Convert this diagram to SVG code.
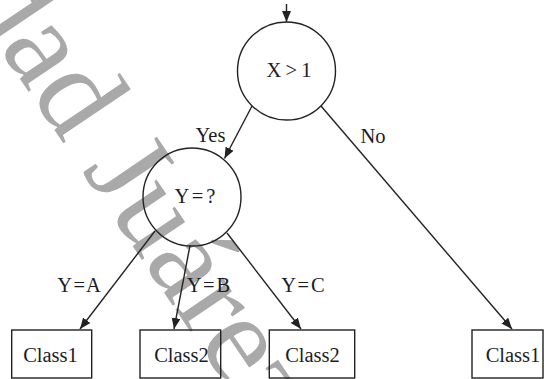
<svg xmlns="http://www.w3.org/2000/svg" width="544" height="379" viewBox="0 0 544 379">
  <style>
    .wm { font-family: "Liberation Serif", "Times New Roman", serif; font-size: 124px; fill: #a9a9a9; }
    .node circle, .node rect { fill: none; stroke: #222; stroke-width: 1.4; }
    .t { font-family: "Liberation Serif", "Times New Roman", serif; font-size: 20.5px; fill: #1c1c28; text-anchor: middle; }
    .eq { word-spacing: -3px; }
    .edge { stroke: #222; stroke-width: 1.4; fill: none; marker-end: url(#ah); }
  </style>
  <defs>
    <marker id="ah" markerUnits="userSpaceOnUse" markerWidth="12" markerHeight="10" refX="11" refY="4.5" orient="auto">
      <path d="M0,0 L11,4.5 L0,9 z" fill="#222"/>
    </marker>
  </defs>
  <rect width="544" height="379" fill="#fff"/>
  <text class="wm" transform="translate(-36,-4) rotate(56)">dad Juárez</text>

  <g id="connectors">
    <line class="edge" x1="286.5" y1="4" x2="286.5" y2="22"/>
    <line class="edge" x1="252" y1="106" x2="224.5" y2="158.5"/>
    <line class="edge" x1="321" y1="106" x2="512" y2="329"/>
    <line class="edge" x1="155" y1="231" x2="80" y2="329"/>
    <line class="edge" x1="190" y1="245.5" x2="174" y2="329"/>
    <line class="edge" x1="227" y1="233" x2="301" y2="329"/>
    <text class="t" x="210.5" y="142">Yes</text>
    <text class="t" x="373" y="143">No</text>
    <text class="t eq" x="79" y="292">Y = A</text>
    <text class="t eq" x="208.5" y="292">Y = B</text>
    <text class="t eq" x="303" y="292">Y = C</text>
  </g>

  <g id="n_x" class="node">
    <circle cx="286.5" cy="71" r="49"/>
    <text class="t" x="289" y="77" style="word-spacing:-1px">X &gt; 1</text>
  </g>
  <g id="n_y" class="node">
    <circle cx="192" cy="197" r="49"/>
    <text class="t" x="195" y="203" style="word-spacing:-2px">Y = ?</text>
  </g>
  <g id="c1a" class="node">
    <rect x="11.7" y="330" width="80" height="48"/>
    <text class="t" x="50.5" y="362">Class1</text>
  </g>
  <g id="c2a" class="node">
    <rect x="140" y="330" width="80.7" height="48"/>
    <text class="t" x="181.5" y="362">Class2</text>
  </g>
  <g id="c2b" class="node">
    <rect x="269.3" y="330" width="85.4" height="48"/>
    <text class="t" x="312.5" y="362">Class2</text>
  </g>
  <g id="c1b" class="node">
    <rect x="472" y="330" width="71" height="48"/>
    <text class="t" x="513" y="362">Class1</text>
  </g>
</svg>
